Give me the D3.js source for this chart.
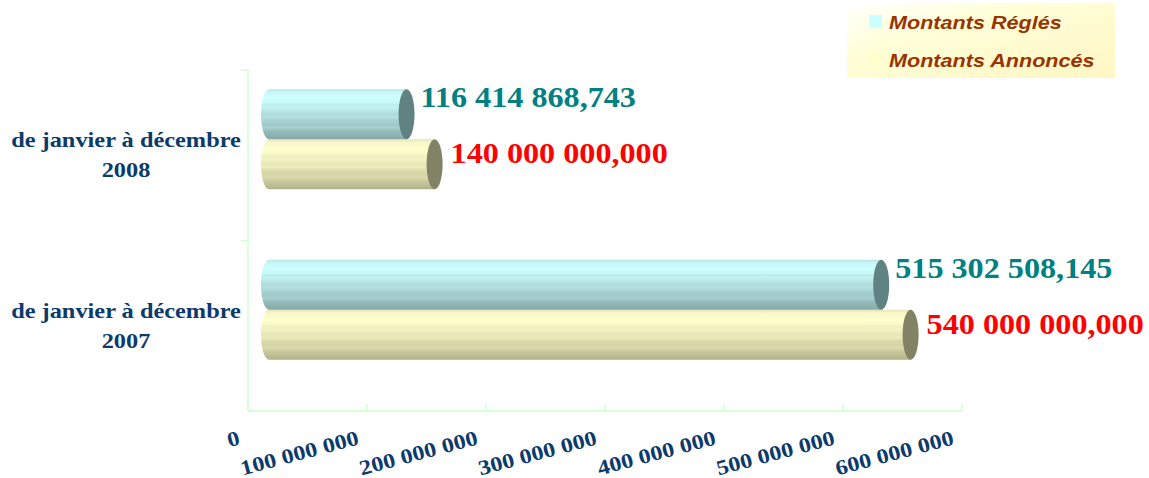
<!DOCTYPE html>
<html>
<head>
<meta charset="utf-8">
<script src="https://cdn.jsdelivr.net/npm/d3@7"></script>
<style>
  body { margin: 0; background: #fff; }
</style>
</head>
<body>
<script>
const categories = ["de janvier à décembre 2008", "de janvier à décembre 2007"];
const series = ["Montants Réglés", "Montants Annoncés"];
const regles = [116414868.743, 515302508.145];
const annonces = [140000000, 540000000];
const regleLabels = ["116 414 868,743", "515 302 508,145"];
const annonceLabels = ["140 000 000,000", "540 000 000,000"];
const ticks = [0, 100000000, 200000000, 300000000, 400000000, 500000000, 600000000];

const width = 1149, height = 478;
const marginLeft = 248, marginRight = 187, marginTop = 70, marginBottom = 67;
const depthX = 20, depthY = -16; // 3d offset of the bars
const navy = "#0b3a6b";

const svg = d3.select("body").append("svg")
    .attr("width", width)
    .attr("height", height);

const x = d3.scaleLinear()
    .domain([0, 600000000])
    .range([marginLeft, width - marginRight]);

const y = d3.scaleBand()
    .domain(categories)
    .range([marginTop, height - marginBottom]);

const ySub = d3.scaleBand()
    .domain(series)
    .range([-50, 50]);

const defs = svg.append("defs");

function cylGradient(id, stops) {
  const g = defs.append("linearGradient")
      .attr("id", id)
      .attr("x1", 0).attr("y1", 0).attr("x2", 0).attr("y2", 1);
  stops.forEach(s => g.append("stop").attr("offset", s[0]).attr("stop-color", s[1]));
}
cylGradient("g-cyan", [
  [0, "#b8e2e2"], [0.06, "#c8f6f6"], [0.18, "#ccffff"], [0.28, "#c6f8f8"],
  [0.3, "#bdeeee"], [0.36, "#c2f2f2"], [0.45, "#b6e4e4"], [0.5, "#b0dcdc"],
  [0.56, "#b4e0e0"], [0.64, "#a6d0d0"], [0.72, "#a0c8c8"], [0.76, "#a8d0d0"],
  [0.84, "#96bcbc"], [0.92, "#8eb2b2"], [1, "#86a8a8"]
]);
cylGradient("g-yellow", [
  [0, "#e4e4ba"], [0.06, "#f6f6c8"], [0.2, "#ffffcc"], [0.3, "#f8f8c6"],
  [0.34, "#eeeebe"], [0.4, "#f2f2c2"], [0.5, "#e6e6b6"], [0.56, "#ecebbc"],
  [0.62, "#dcdcae"], [0.7, "#d4d4a6"], [0.76, "#dadaac"], [0.84, "#c8c89c"],
  [0.92, "#bebe94"], [1, "#b2b08a"]
]);

const legendGrad = defs.append("linearGradient")
    .attr("id", "g-legend")
    .attr("x1", 0).attr("y1", 0).attr("x2", 1).attr("y2", 1);
legendGrad.append("stop").attr("offset", 0).attr("stop-color", "#ffffff");
legendGrad.append("stop").attr("offset", 0.35).attr("stop-color", "#ffffd8");
legendGrad.append("stop").attr("offset", 1).attr("stop-color", "#fff6c4");

// axes
const axisColor = "#ccffcc";
const axisG = svg.append("g").attr("stroke", axisColor).attr("stroke-width", 1.3);
axisG.append("line")
    .attr("x1", marginLeft).attr("x2", marginLeft)
    .attr("y1", marginTop).attr("y2", height - marginBottom);
axisG.append("line")
    .attr("x1", marginLeft).attr("x2", x(600000000))
    .attr("y1", height - marginBottom).attr("y2", height - marginBottom);
axisG.selectAll(".tx")
    .data(ticks)
    .join("line")
    .attr("x1", d => x(d)).attr("x2", d => x(d))
    .attr("y1", height - marginBottom).attr("y2", height - marginBottom - 7);
axisG.selectAll(".ty")
    .data([marginTop, y(categories[1])])
    .join("line")
    .attr("x1", marginLeft - 7).attr("x2", marginLeft)
    .attr("y1", d => d).attr("y2", d => d);

svg.append("g")
    .selectAll("text")
    .data(ticks)
    .join("text")
    .attr("transform", d => `translate(${x(d) - 7},${height - marginBottom + 33}) rotate(-15) scale(1.16,1)`)
    .attr("text-anchor", "end")
    .attr("font-family", "Liberation Serif, Times New Roman, serif")
    .attr("font-weight", "bold")
    .attr("font-size", 21)
    .attr("fill", navy)
    .text(d => d === 0 ? "0" : d3.format(",")(d).replace(/,/g, " "));

// category labels
const catG = svg.append("g")
    .attr("font-family", "Liberation Serif, Times New Roman, serif")
    .attr("font-weight", "bold")
    .attr("font-size", 21)
    .attr("fill", navy)
    .attr("text-anchor", "middle");
categories.forEach(c => {
  const cy = y(c) + y.bandwidth() / 2;
  const t = catG.append("text")
      .attr("transform", `translate(126,${cy - 8}) scale(1.16,1)`);
  t.append("tspan").attr("x", 0).attr("y", 0).text(c.slice(0, -5));
  t.append("tspan").attr("x", 0).attr("y", 30).text(c.slice(-4));
});

// cylinders
const rx = 8;
function cylinder(g, x0, x1, top, h, fill, capFill) {
  const ry = h / 2;
  g.append("path")
      .attr("d", `M${x0},${top} L${x1},${top} L${x1},${top + h} L${x0},${top + h} A${rx},${ry} 0 0 1 ${x0},${top} Z`)
      .attr("fill", fill);
  g.append("ellipse")
      .attr("cx", x1).attr("cy", top + ry)
      .attr("rx", rx).attr("ry", ry)
      .attr("fill", capFill);
}

const barsG = svg.append("g");
const rows = categories.map((c, i) => ({cat: c, regle: regles[i], annonce: annonces[i], rl: regleLabels[i], al: annonceLabels[i]}));
rows.forEach(r => {
  const cy = y(r.cat) + y.bandwidth() / 2 + depthY;
  const topR = cy + ySub(series[0]);
  const topA = cy + ySub(series[1]);
  const x0 = x(0) + depthX + 1;
  cylinder(barsG, x0, x(r.annonce) + depthX, topA, ySub.bandwidth(), "url(#g-yellow)", "#828264");
  cylinder(barsG, x0, x(r.regle) + depthX, topR, ySub.bandwidth(), "url(#g-cyan)", "#618282");

  barsG.append("text")
      .attr("transform", `translate(${x(r.regle) + depthX + 14},${topR + 18}) scale(1.11,1)`)
      .attr("font-family", "Liberation Serif, Times New Roman, serif")
      .attr("font-weight", "bold")
      .attr("font-size", 29)
      .attr("fill", "#008080")
      .text(r.rl);
  barsG.append("text")
      .attr("transform", `translate(${x(r.annonce) + depthX + 16},${topA + 24}) scale(1.11,1)`)
      .attr("font-family", "Liberation Serif, Times New Roman, serif")
      .attr("font-weight", "bold")
      .attr("font-size", 29)
      .attr("fill", "#ff0000")
      .text(r.al);
});

// legend
const legend = svg.append("g");
legend.append("rect")
    .attr("x", 847).attr("y", 3)
    .attr("width", 268).attr("height", 75)
    .attr("fill", "url(#g-legend)");
const legendColors = ["#ccffff", "#ffffcc"];
series.forEach((s, i) => {
  const ly = 22 + i * 38;
  legend.append("rect")
      .attr("x", 869).attr("y", ly - 7)
      .attr("width", 13).attr("height", 13)
      .attr("fill", legendColors[i]);
  legend.append("text")
      .attr("transform", `translate(889,${ly + 7}) scale(1.2,1)`)
      .attr("font-family", "Liberation Sans, Arial, sans-serif")
      .attr("font-weight", "bold")
      .attr("font-style", "italic")
      .attr("font-size", 18)
      .attr("fill", "#993300")
      .text(s);
});
</script>
</body>
</html>
